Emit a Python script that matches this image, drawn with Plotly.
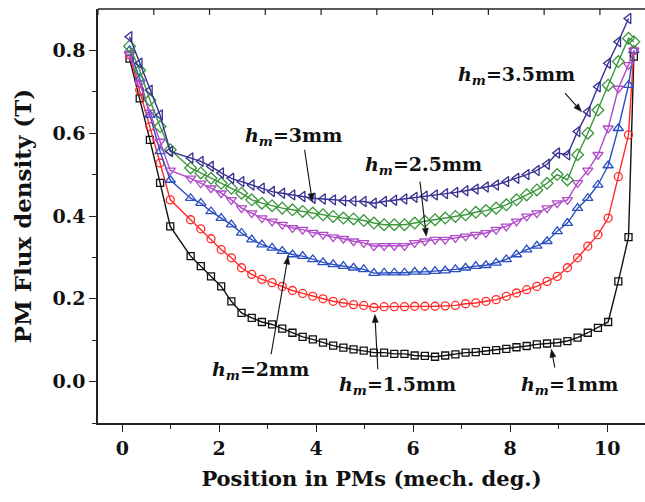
import math
import plotly.graph_objects as go

# x positions (mech. deg.)
x_pos = [0.15, 0.36, 0.57, 0.78, 0.99, 1.41, 1.62, 1.83, 2.04, 2.25, 2.46, 2.67, 2.88, 3.09,
         3.30, 3.51, 3.72, 3.93, 4.14, 4.35, 4.56, 4.77, 4.98, 5.19, 5.40, 5.61, 5.82, 6.03,
         6.24, 6.45, 6.66, 6.87, 7.08, 7.29, 7.50, 7.71, 7.92, 8.13, 8.34, 8.55, 8.76, 8.97,
         9.18, 9.39, 9.60, 9.81, 10.02, 10.23, 10.44, 10.55]

hm_1mm = [0.78, 0.684, 0.584, 0.48, 0.375,
          0.303, 0.279, 0.254, 0.230, 0.194, 0.166, 0.154, 0.144, 0.138, 0.128, 0.118, 0.108,
          0.102, 0.094, 0.087, 0.082, 0.078, 0.075,
          0.070, 0.070, 0.067, 0.067, 0.063, 0.062, 0.060, 0.063, 0.066, 0.070, 0.071, 0.074,
          0.076, 0.079, 0.083, 0.086, 0.090, 0.092, 0.094, 0.098, 0.106, 0.118, 0.130, 0.144,
          0.242, 0.349, 0.785]

hm_15mm = [0.789, 0.704, 0.616, 0.528, 0.439,
           0.391, 0.369, 0.345, 0.319, 0.299, 0.275, 0.259, 0.247, 0.239, 0.230, 0.220, 0.213,
           0.206, 0.200, 0.194, 0.190, 0.186, 0.184,
           0.179, 0.181, 0.181, 0.181, 0.182, 0.182, 0.182, 0.183, 0.184, 0.188, 0.190, 0.194,
           0.198, 0.206, 0.214, 0.222, 0.230, 0.242, 0.254, 0.275, 0.299, 0.327, 0.355, 0.395,
           0.495, 0.596, 0.80]

hm_2mm = [0.80, 0.732, 0.644, 0.556, 0.487,
          0.443, 0.431, 0.411, 0.395, 0.379, 0.359, 0.343, 0.331, 0.323, 0.315, 0.307, 0.303,
          0.295, 0.288, 0.283, 0.279, 0.275, 0.271,
          0.262, 0.263, 0.263, 0.263, 0.265, 0.265, 0.267, 0.268, 0.271, 0.275, 0.279, 0.281,
          0.287, 0.295, 0.307, 0.319, 0.328, 0.339, 0.363, 0.383, 0.419, 0.443, 0.475, 0.522,
          0.612, 0.716, 0.80]

hm_25mm = [0.79, 0.72, 0.65, 0.58, 0.51,
           0.491, 0.479, 0.467, 0.455, 0.439, 0.419, 0.407, 0.395, 0.387, 0.379, 0.371, 0.367,
           0.360, 0.355, 0.349, 0.345, 0.339, 0.335,
           0.327, 0.328, 0.328, 0.328, 0.335, 0.339, 0.343, 0.343, 0.347, 0.351, 0.355, 0.359,
           0.367, 0.375, 0.387, 0.399, 0.407, 0.419, 0.431, 0.439,
           0.48, 0.51, 0.548, 0.612, 0.708, 0.765, 0.80]

hm_3mm = [0.81, 0.752, 0.68, 0.616, 0.56,
          0.516, 0.504, 0.491, 0.479, 0.467, 0.455, 0.439, 0.431, 0.425, 0.419, 0.415, 0.411,
          0.407, 0.403, 0.399, 0.395, 0.393, 0.389,
          0.383, 0.379, 0.379, 0.379, 0.383, 0.387, 0.391, 0.395, 0.399, 0.403, 0.409, 0.413,
          0.419, 0.427, 0.439, 0.451, 0.463, 0.479, 0.500, 0.487,
          0.548, 0.60, 0.656, 0.716, 0.773, 0.829, 0.821]

hm_35mm = [0.833, 0.769, 0.704, 0.644, 0.556,
           0.54, 0.532, 0.52, 0.504, 0.491, 0.483, 0.475, 0.467, 0.459, 0.455, 0.451, 0.447,
           0.443, 0.441, 0.439, 0.437, 0.436, 0.435,
           0.431, 0.435, 0.438, 0.441, 0.445, 0.448, 0.451, 0.454, 0.457, 0.461, 0.465, 0.470,
           0.475, 0.483, 0.491, 0.50, 0.51, 0.525, 0.552, 0.548,
           0.604, 0.652, 0.712, 0.769, 0.821, 0.877, None]

series = [
    ("h_m=1mm", hm_1mm, "#111111", "square-open", 7),
    ("h_m=1.5mm", hm_15mm, "#ff2a2a", "circle-open", 8),
    ("h_m=2mm", hm_2mm, "#2a4fc0", "triangle-up-open", 9),
    ("h_m=2.5mm", hm_25mm, "#b04cc8", "triangle-down-open", 9),
    ("h_m=3mm", hm_3mm, "#3c963c", "diamond-open", 9),
    ("h_m=3.5mm", hm_35mm, "#35308f", "triangle-left-open", 9),
]

# label values, label position, arrow tail, arrow head
label_vals = ["3.5", "3", "2.5", "2", "1.5", "1"]
label_xy = [(8.14, 0.740), (3.53, 0.591), (6.22, 0.521), (2.85, 0.027), (5.68, -0.009), (9.23, -0.009)]
arrow_tail = [(9.13, 0.697), (3.76, 0.560), (6.14, 0.483), (3.07, 0.066), (5.27, 0.030), (8.92, 0.034)]
arrow_head = [(9.47, 0.652), (3.92, 0.435), (6.27, 0.351), (3.42, 0.303), (5.21, 0.162), (8.85, 0.078)]

# ticks on the top frame (secondary scale)
top_ticks = [-0.5, 0.65, 1.8, 2.95, 4.1, 5.25, 6.4, 7.55, 8.7, 9.85]

FONT = "DejaVu Serif"
W, H = 645, 502
ML, MR, MT, MB = 98, 0, 9, 79
XR = [-0.5, 10.78]
YR = [-0.1, 0.9]

fig = go.Figure()
for name, ys, col, sym, sz in series:
    fig.add_trace(go.Scatter(
        x=x_pos, y=ys, mode="lines+markers", name=name, showlegend=False,
        line=dict(color=col, width=1.4),
        marker=dict(symbol=sym, size=sz, color=col, line=dict(color=col, width=1.3)),
    ))

sx = (W - ML - MR) / (XR[1] - XR[0])
sy = (H - MT - MB) / (YR[1] - YR[0])

for val, (tx, ty), (ax_, ay_), (hx, hy) in zip(label_vals, label_xy, arrow_tail, arrow_head):
    fig.add_annotation(
        x=tx, y=ty, xref="x", yref="y", showarrow=False,
        text="<i>h</i><sub><i>m</i></sub>=" + val + "mm",
        font=dict(family=FONT, size=19, color="#111", weight="bold"),
    )
    dxp = (hx - ax_) * sx
    dyp = (hy - ay_) * sy
    L = math.hypot(dxp, dyp)
    ux, uy = dxp / L, dyp / L
    hl, hw = 8.0, 3.0
    bx, by = hx - ux * hl / sx, hy - uy * hl / sy
    fig.add_shape(type="line", x0=ax_, y0=ay_, x1=bx, y1=by, xref="x", yref="y",
                  line=dict(color="#111", width=1.1))
    p1 = (bx - uy * hw / sx, by + ux * hw / sy)
    p2 = (bx + uy * hw / sx, by - ux * hw / sy)
    path = f"M {hx},{hy} L {p1[0]},{p1[1]} L {p2[0]},{p2[1]} Z"
    fig.add_shape(type="path", path=path, xref="x", yref="y",
                  fillcolor="#111", line=dict(color="#111", width=0.5))

# top frame line and its inward ticks
fig.add_shape(type="line", x0=0, x1=1, y0=1, y1=1, xref="paper", yref="paper",
              line=dict(color="#222", width=1.6))
tick_h = 6.0 / (H - MT - MB)
for t in top_ticks:
    fig.add_shape(type="line", x0=t, x1=t, y0=1, y1=1 - tick_h, xref="x", yref="paper",
                  line=dict(color="#222", width=1.2))

axis_common = dict(
    showline=True, linecolor="#222", linewidth=1.5, showgrid=False, zeroline=False,
    ticks="outside", tickcolor="#222", tickwidth=1.3, ticklen=7,
    tickfont=dict(family=FONT, size=19, color="#111", weight="bold"),
)

fig.update_layout(
    width=W, height=H,
    margin=dict(l=ML, r=MR, t=MT, b=MB),
    plot_bgcolor="white", paper_bgcolor="white",
    xaxis=dict(
        range=XR, tickvals=[0, 2, 4, 6, 8, 10],
        minor=dict(tickvals=[1, 3, 5, 7, 9], ticks="outside", ticklen=4, tickcolor="#222", tickwidth=1.2),
        title=dict(text="Position in PMs (mech. deg.)", standoff=14,
                   font=dict(family=FONT, size=21, color="#111", weight="bold")),
        **axis_common,
    ),
    yaxis=dict(
        range=YR, tickvals=[0.0, 0.2, 0.4, 0.6, 0.8], tickformat=".1f",
        minor=dict(tickvals=[-0.1, 0.1, 0.3, 0.5, 0.7], ticks="outside", ticklen=4, tickcolor="#222", tickwidth=1.2),
        title=dict(text="PM Flux density (T)", standoff=14,
                   font=dict(family=FONT, size=23, color="#111", weight="bold")),
        **axis_common,
    ),
)

fig.write_html("out.html", config={"displayModeBar": False},
               post_script="document.body.style.margin='0px';")
